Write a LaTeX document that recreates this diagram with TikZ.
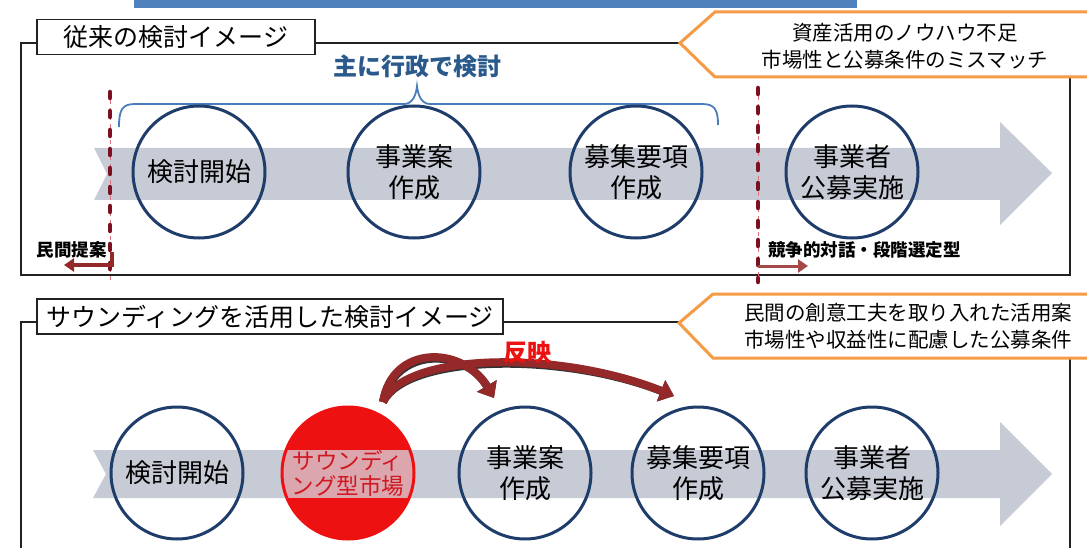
\documentclass[tikz,border=0pt]{standalone}
\usepackage{fontspec}
\setmainfont{Noto Sans CJK JP}
\usetikzlibrary{arrows.meta}
\definecolor{cbar}{HTML}{4F81BD}
\definecolor{cnavy}{HTML}{1F3D6B}
\definecolor{cband}{HTML}{C7CBD5}
\definecolor{cpinkband}{HTML}{DCA6AE}
\definecolor{corange}{HTML}{F59A45}
\definecolor{cbrace}{HTML}{4A7EBB}
\definecolor{cbluetext}{HTML}{2A5A8C}
\definecolor{cdash}{HTML}{7A1020}
\definecolor{cdashpink}{HTML}{E07080}
\definecolor{carrow}{HTML}{952828}
\definecolor{cred}{HTML}{EE1111}
\definecolor{ctextred}{HTML}{D01820}
\definecolor{cframe}{HTML}{222222}
\tikzset{
  circ/.style={circle, draw=cnavy, line width=3pt, minimum size=132pt, inner sep=0pt, align=center, font=\fontsize{26}{31}\selectfont},
  titlebox/.style={draw=cframe, line width=1.2pt, fill=white, minimum height=35pt, inner sep=0pt, font=\fontsize{25}{28}\selectfont},
  pentatext/.style={align=center, font=\fontsize{20.5}{27}\selectfont},
  pentabox/.style={draw=corange, line width=3pt, fill=white, line join=miter},
  framel/.style={draw=cframe, line width=1.5pt},
  bandfill/.style={fill=cband},
  dashback/.style={draw=cdashpink, line width=1pt, dash pattern=on 4pt off 4pt},
  dashfront/.style={draw=cdash, line width=4.5pt, line cap=round, dash pattern=on 6pt off 13pt},
  lbl/.style={font=\fontsize{17.5}{20}\selectfont\bfseries, inner sep=0pt},
  redarr/.style={draw=carrow, line width=4pt, -{Triangle[length=10pt,width=13pt]}},
  refarrow/.style={draw=carrow, line width=8pt, -{Triangle[length=14pt,width=22pt]}},
  refshadow/.style={draw=black!80, line width=8pt, -{Triangle[length=14pt,width=22pt]}},
  bracestyle/.style={draw=cbrace, line width=1.8pt}
}
\begin{document}
\begin{tikzpicture}[x=1pt,y=-1pt]
\useasboundingbox (0,0) rectangle (1087,548);
\fill[white] (0,0) rectangle (1087,548);

% top blue bar
\fill[cbar] (134,0) rectangle (857,8);

% ---------------- top panel ----------------
\draw[framel] (1070,77) -- (1070,275) -- (21,275) -- (21,43) -- (682,43);
\node[titlebox, minimum width=278pt] (title1) at (176,37) {従来の検討イメージ};

\draw[pentabox] (680,43) -- (715,12) -- (1100,12) -- (1100,77) -- (715,77) -- cycle;
\node[pentatext] (issue1) at (905,46.5) {資産活用のノウハウ不足\\市場性と公募条件のミスマッチ};

% band
\path[bandfill] (94,148) -- (1000,148) -- (1000,122) -- (1052,173) -- (1000,225) -- (1000,200) -- (94,200) -- (107,174) -- cycle;

% brace
\draw[bracestyle] (119,127) .. controls (119,110) and (122,104) .. (135,104) -- (404,104)
  .. controls (412,104) and (416,96) .. (417,86) .. controls (418,96) and (422,104) .. (430,104)
  -- (702,104) .. controls (715,104) and (718,110) .. (718,125);
\node[font=\fontsize{24}{26}\selectfont\bfseries, text=cbluetext] (gyosei) at (417,66) {主に行政で検討};

% dashed lines
\coordinate (dlt) at (110,92);
\coordinate (dlb) at (110,282);
\coordinate (drt) at (758,88);
\coordinate (drb) at (758,282);
\draw[dashback] (dlt) -- (dlb);
\draw[dashback] (drt) -- (drb);
\draw[dashfront] (dlt) -- (dlb);
\draw[dashfront] (drt) -- (drb);

% circles top
\node[circ] (t1) at (199,172) {検討開始};
\node[circ] (t2) at (414,172) {事業案\\作成};
\node[circ] (t3) at (636,172) {募集要項\\作成};
\node[circ] (t4) at (852,172) {事業者\\公募実施};

% small labels and arrows
\node[lbl, anchor=east] (minkan) at (107,250) {民間提案};
\coordinate (ma1) at (112,252);
\coordinate (ma2) at (64,265);
\draw[redarr] (ma1) |- (ma2);
\node[lbl, anchor=west] (kyoso) at (768,250) {競争的対話・段階選定型};
\coordinate (ka1) at (758,266);
\coordinate (ka2) at (808,266);
\draw[redarr, line width=3pt, draw=carrow!85!white] (ka1) -- (ka2);

% ---------------- bottom panel ----------------
\draw[framel] (682,322) -- (21,322) -- (21,560);
\draw[framel] (1070,358) -- (1070,560);
\node[titlebox, minimum width=466pt] (title2) at (270,316.5) {サウンディングを活用した検討イメージ};

\draw[pentabox] (679,323) -- (713,294) -- (1100,294) -- (1100,358) -- (713,358) -- cycle;
\node[pentatext] (issue2) at (908,326.5) {民間の創意工夫を取り入れた活用案\\市場性や収益性に配慮した公募条件};

% band
\path[bandfill] (93,450) -- (1000,450) -- (1000,422) -- (1052,474) -- (1000,526) -- (1000,498) -- (93,498) -- (106,474) -- cycle;

% red circle
\fill[cred] (348,473) circle (66);
\begin{scope}
  \clip (348,473) circle (66);
  \fill[cpinkband] (270,450) rectangle (430,498);
\end{scope}

% circles bottom
\node[circ] (b1) at (177,473) {検討開始};
\node[circ, draw=cred, text=ctextred, font=\fontsize{22.5}{25}\selectfont] (b2) at (348,473) {サウンディ\\ング型市場};
\node[circ] (b3) at (525,473) {事業案\\作成};
\node[circ] (b4) at (698,473) {募集要項\\作成};
\node[circ] (b5) at (872,473) {事業者\\公募実施};

% reflection arrows
\coordinate (rbase) at (383,402);
\coordinate (rendA) at (494,398);
\coordinate (rendB) at (674,396);
\begin{scope}[shift={(2,2)}]
  \draw[refshadow] (rbase) .. controls (392,345) and (462,345) .. (rendA);
  \draw[refshadow] (rbase) .. controls (405,352) and (560,350) .. (rendB);
\end{scope}
\draw[refarrow] (rbase) .. controls (392,345) and (462,345) .. (rendA);
\draw[refarrow] (rbase) .. controls (405,352) and (560,350) .. (rendB);
\node[font=\fontsize{24}{26}\selectfont\bfseries, text=cred] (hanei) at (527,353) {反映};

\end{tikzpicture}
\end{document}
